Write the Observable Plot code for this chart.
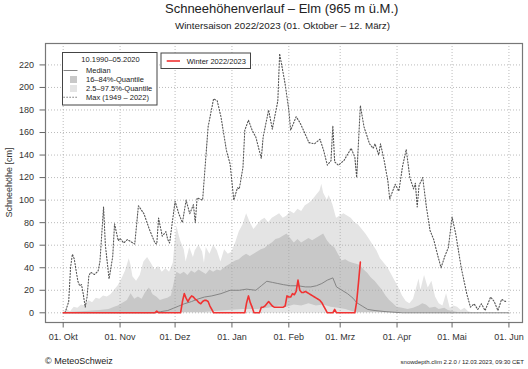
<!DOCTYPE html>
<html><head><meta charset="utf-8">
<script src="https://cdn.jsdelivr.net/npm/d3@7"></script>
<script src="https://cdn.jsdelivr.net/npm/@observablehq/plot@0.6"></script>
<style>
body{margin:0;background:#fff;}
#wrap{position:relative;width:528px;height:369px;font-family:"Liberation Sans",Arial,Helvetica,sans-serif;}
#wrap svg{position:absolute;left:0;top:0;}
</style></head><body><div id="wrap"></div>
<script>
// day offsets counted from 01.10.2022
const monthStarts = ["2022-10-01","2022-11-01","2022-12-01","2023-01-01","2023-02-01","2023-03-01","2023-04-01","2023-05-01","2023-06-01"];
const monthLabels = ["01. Okt","01. Nov","01. Dez","01. Jan","01. Feb","01. Mrz","01. Apr","01. Mai","01. Jun"];
const yTicks = [0,20,40,60,80,100,120,140,160,180,200,220];

// Max (1949 - 2022) [day, cm]
const maxSeries = [[1,0],[3,10],[4,40],[5,52],[6,48],[7,38],[8,28],[9,24],[10,25],[11,16],[12,5],[13,14],[14,33],[15,36],[17,34],[19,37],[20,45],[22,94],[23,60],[25,30],[27,50],[28,79],[30,64],[31,66],[33,62],[35,65],[37,63],[39,61],[41,95],[44,88],[47,74],[50,62],[51,61],[52,84],[54,68],[56,72],[57,65],[58,62],[61,99],[63,88],[65,80],[67,100],[69,88],[71,96],[72,80],[73,102],[76,100],[79,165],[82,190],[84,188],[86,174],[89,144],[91,132],[93,100],[95,111],[96,110],[98,129],[99,162],[101,171],[103,162],[105,156],[108,137],[109,156],[112,180],[114,163],[117,188],[118,230],[120,212],[121,203],[123,180],[124,162],[127,174],[129,169],[131,162],[134,151],[137,150],[140,154],[142,144],[144,131],[146,135],[147,166],[148,134],[150,131],[153,135],[157,146],[159,138],[160,120],[162,184],[164,165],[167,150],[169,146],[170,150],[172,140],[173,150],[175,135],[177,117],[178,101],[181,114],[183,108],[185,130],[187,145],[189,120],[191,110],[192,115],[193,94],[194,113],[196,120],[198,94],[200,73],[202,65],[204,52],[206,40],[208,50],[210,58],[212,85],[214,70],[217,40],[220,17],[222,5],[224,8],[226,3],[228,8],[230,2],[233,14],[235,10],[237,2],[239,12],[241,10],[242,11]];

// 97.5% quantile [day, cm]
const q975Series = [[0,0],[2,3],[4,1],[6,5],[8,4],[10,7],[12,6],[14,11],[16,9],[18,13],[20,12],[22,15],[24,14],[26,16],[28,20],[30,24],[32,30],[34,37],[36,48],[37,42],[38,32],[40,28],[42,33],[44,45],[46,49],[48,44],[50,38],[52,41],[54,36],[56,39],[58,36],[60,44],[61,62],[62,77],[63,70],[64,64],[66,56],[67,45],[69,58],[71,49],[72,55],[74,60],[76,54],[77,44],[78,58],[80,52],[82,60],[84,55],[86,45],[88,56],[90,52],[92,54],[94,62],[96,72],[98,78],[100,88],[102,80],[104,74],[106,78],[108,82],[110,84],[112,80],[114,84],[116,86],[118,88],[120,84],[122,86],[124,90],[126,88],[128,92],[130,90],[132,95],[134,97],[136,100],[138,104],[140,108],[141,114],[142,106],[144,100],[145,104],[147,96],[149,84],[151,86],[153,88],[155,86],[157,84],[159,80],[161,78],[163,74],[165,70],[167,65],[169,60],[171,55],[173,48],[175,44],[177,40],[179,34],[181,28],[183,22],[185,15],[187,10],[189,8],[191,12],[193,24],[194,30],[195,20],[197,33],[199,22],[201,28],[203,14],[205,8],[207,6],[209,17],[211,4],[213,6],[215,5],[217,2],[219,4],[221,1],[223,0],[243,0]];

// 84% quantile [day, cm]
const q84Series = [[0,0],[10,1],[20,2],[25,3],[28,5],[30,6],[33,9],[35,11],[37,17],[39,12],[41,14],[43,12],[45,18],[47,22],[49,16],[51,14],[53,11],[55,12],[57,13],[59,15],[61,30],[62,36],[64,34],[66,36],[68,33],[70,37],[72,35],[74,38],[76,36],[78,34],[80,38],[82,36],[84,38],[86,37],[88,40],[90,42],[92,44],[94,46],[96,47],[98,50],[100,52],[102,50],[104,52],[106,54],[108,56],[110,57],[112,60],[114,62],[116,65],[118,66],[120,68],[122,70],[124,66],[126,62],[128,65],[130,62],[132,64],[134,66],[136,64],[138,66],[140,68],[142,70],[144,64],[146,60],[148,58],[150,52],[152,46],[154,47],[156,45],[158,44],[160,43],[162,42],[164,38],[166,35],[168,31],[170,28],[172,24],[174,20],[176,15],[178,11],[180,8],[182,5],[185,4],[188,3],[191,4],[194,6],[196,8],[198,7],[200,4],[203,5],[205,3],[208,4],[210,2],[213,1],[216,0],[243,0]];

// 16% quantile [day, cm]
const q16Series = [[0,0],[75,0],[82,1],[90,2],[98,3],[106,3],[112,4],[118,6],[122,5],[126,7],[130,6],[134,8],[138,6],[142,7],[146,5],[150,4],[154,3],[158,1],[162,0],[243,0]];

// Median [day, cm]
const medianSeries = [[0,0],[50,0],[53,1],[57,2],[60,4],[63,6],[66,8],[70,10],[73,12],[77,14],[81,15],[86,17],[91,20],[96,20],[100,21],[105,20],[108,24],[111,28],[114,27],[117,26],[120,25],[124,24],[128,24],[132,23],[135,23],[138,24],[141,26],[144,29],[147,31],[149,23],[152,20],[155,17],[158,13],[160,9],[163,6],[166,3],[170,2],[176,1],[185,0],[243,0]];

// Winter 2022/2023 [day, cm]
const winterSeries = [[0,0],[50,0],[51,1.5],[52,0],[64,0],[65,10],[66,17],[67,13],[68,10],[69,13],[70,15],[71,14],[72,12],[73,11],[74,9],[75,8],[76,10],[77,11],[78,11],[79,10],[80,6],[81,3],[82,0],[99,0],[100,9],[101,15],[102,9],[103,5],[104,0],[107,0],[108,5],[109,5],[110,6],[111,8],[112,10],[113,8],[114,6],[115,5],[120,5],[121,6],[122,15],[123,14],[124,14],[125,17],[126,16],[127,19],[128,29],[129,20],[130,18],[131,18],[132,19],[133,18],[134,17],[135,16],[136,15],[137,14],[138,13],[139,12],[140,11],[141,9],[142,6],[143,3],[144,0],[147,0],[148,3],[149,0],[159,0],[160,10],[161,27],[162,45]];

const START = Date.UTC(2022, 9, 1);
const toDate = d => new Date(START + d * 864e5);
const rows = s => s.map(([d, v]) => ({date: toDate(d), v}));
const monthDates = monthStarts.map(s => new Date(s + "T00:00:00Z"));
const labelMap = new Map(monthDates.map((d, i) => [+d, monthLabels[i]]));

const FONT = "Liberation Sans, Arial, Helvetica, sans-serif";
const gridOpts = {stroke: "#aaa", strokeOpacity: 1, strokeWidth: 0.8, strokeDasharray: "1,2"};

const chart = Plot.plot({
  width: 528, height: 369,
  marginTop: 43, marginRight: 6, marginBottom: 47, marginLeft: 45,
  style: {fontFamily: FONT, fontSize: "9px", color: "#333", background: "transparent", overflow: "visible"},
  x: {type: "utc", domain: [toDate(-9.65), toDate(250.4)]},
  y: {domain: [-8.6, 239]},
  marks: [
    Plot.areaY(rows(q975Series), {x: "date", y: "v", fill: "#e4e4e4"}),
    Plot.areaY(rows(q84Series), {x: "date", y: "v", fill: "#c8c8c8"}),
    Plot.areaY(rows(q16Series), {x: "date", y: "v", fill: "#e4e4e4"}),
    Plot.gridY(yTicks, gridOpts),
    Plot.gridX(monthDates, gridOpts),
    Plot.line(rows(medianSeries), {x: "date", y: "v", stroke: "#858585", strokeWidth: 1}),
    Plot.line(rows(maxSeries), {x: "date", y: "v", stroke: "#555", strokeWidth: 1.1, strokeDasharray: "1.2,1.8"}),
    Plot.line(rows(winterSeries), {x: "date", y: "v", stroke: "#f03232", strokeWidth: 1.6}),
    Plot.frame({stroke: "#777", strokeWidth: 1.2}),
    Plot.axisX(monthDates, {tickSize: 5.5, tickPadding: 6, tickFormat: d => labelMap.get(+d), fontSize: 9, label: null, stroke: "#666"}),
    Plot.axisY(yTicks, {tickSize: 5.5, tickPadding: 6, fontSize: 9, label: null, stroke: "#666"})
  ]
});

const wrap = document.getElementById("wrap");
wrap.appendChild(chart);

const overlay = `
<svg width="528" height="369" xmlns="http://www.w3.org/2000/svg" style="font-family:${FONT};">
  <text x="281.7" y="13.3" text-anchor="middle" font-size="13" fill="#222">Schneehöhenverlauf – Elm (965 m ü.M.)</text>
  <text x="282.5" y="29.3" text-anchor="middle" font-size="9.8" fill="#222">Wintersaison 2022/2023 (01. Oktober – 12. März)</text>
  <text transform="translate(11.6,182.5) rotate(-90)" text-anchor="middle" font-size="9" fill="#333">Schneehöhe [cm]</text>
  <text x="45" y="364.3" font-size="9" fill="#222">© MeteoSchweiz</text>
  <text x="524" y="364.3" text-anchor="end" font-size="6" fill="#222">snowdepth.clim 2.2.0 / 12.03.2023, 09:30 CET</text>
  <g font-size="7.5" fill="#222">
    <rect x="62.5" y="52.5" width="94.5" height="52.5" fill="#fff" stroke="#444" stroke-width="1"/>
    <text x="110.5" y="62.4" text-anchor="middle">10.1990–05.2020</text>
    <line x1="63.5" x2="77.5" y1="70.5" y2="70.5" stroke="#858585" stroke-width="1"/>
    <text x="86" y="73.2">Median</text>
    <rect x="70" y="76" width="7" height="7" fill="#c8c8c8"/>
    <text x="86" y="82.2">16–84%-Quantile</text>
    <rect x="70" y="85" width="7" height="7" fill="#e4e4e4"/>
    <text x="86" y="91">2.5–97.5%-Quantile</text>
    <line x1="63.5" x2="77.5" y1="97.3" y2="97.3" stroke="#555" stroke-width="1.1" stroke-dasharray="1.2,1.8"/>
    <text x="86" y="99.8">Max (1949 – 2022)</text>
    <rect x="161" y="53" width="89.5" height="15.5" fill="#fff" stroke="#444" stroke-width="1"/>
    <line x1="166.7" x2="180" y1="61" y2="61" stroke="#f03232" stroke-width="1.6"/>
    <text x="186.7" y="63.7">Winter 2022/2023</text>
  </g>
</svg>`;
wrap.insertAdjacentHTML("beforeend", overlay);
</script></body></html>
